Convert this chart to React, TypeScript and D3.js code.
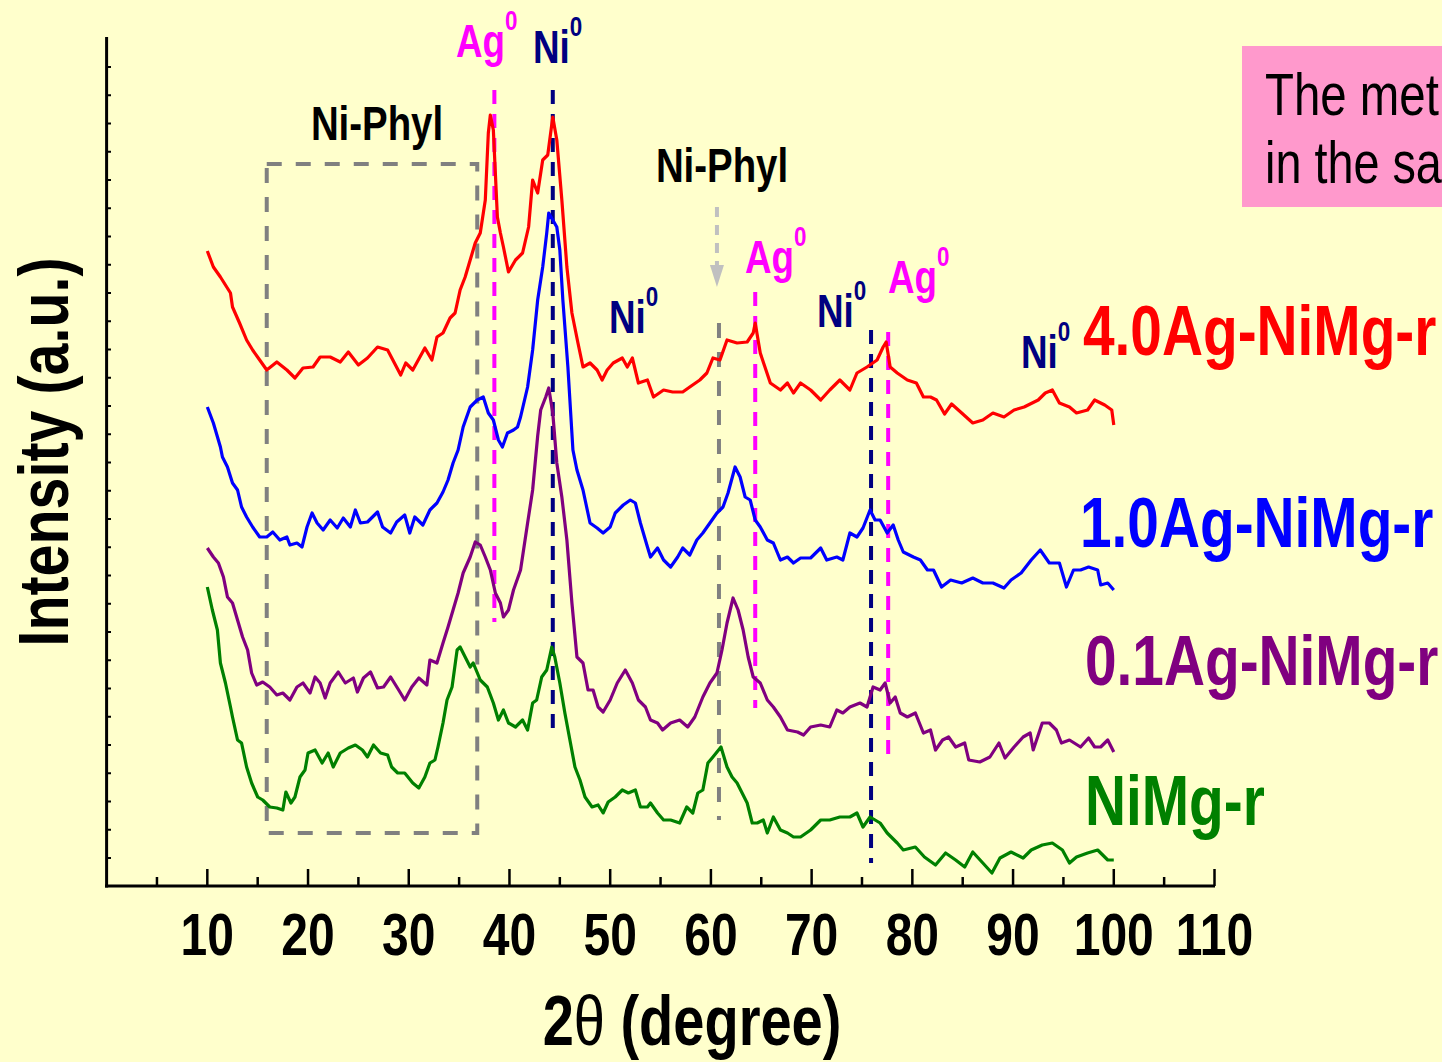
import React from 'react';
import * as d3 from 'd3';

// XRD patterns: [2theta (deg), intensity (a.u.)]
const ag40: [number, number][] = [
  [10.0,635],[10.6,619],[11.3,609],[12.3,593],[12.5,579],[13.2,563],[13.9,546],[14.5,536],[15.2,526],[15.9,516],
  [16.9,524],[17.9,516],[18.7,508],[19.5,518],[20.5,519],[21.2,529],[22.2,529],[23.2,524],[24.0,534],[25.0,521],
  [25.9,528],[26.9,539],[27.9,536],[29.2,511],[29.7,523],[30.4,516],[31.6,538],[32.3,526],[32.8,549],[33.4,553],
  [34.1,568],[34.6,573],[35.1,596],[35.6,609],[36.1,626],[36.6,643],[37.1,653],[37.6,686],[37.9,753],[38.1,771],
  [38.4,756],[38.8,669],[39.1,653],[39.4,639],[39.9,614],[40.6,626],[41.3,633],[41.9,659],[42.3,706],[42.8,693],
  [43.3,726],[43.8,731],[44.3,769],[44.7,746],[45.2,686],[45.7,619],[46.2,573],[46.8,543],[47.3,519],[48.0,523],
  [48.7,516],[49.2,506],[49.7,516],[50.3,523],[51.2,528],[51.7,519],[52.2,528],[52.8,503],[53.7,506],[54.3,489],
  [55.3,496],[56.2,494],[57.2,494],[57.9,499],[58.9,506],[59.6,513],[60.2,528],[60.9,526],[61.6,546],[62.6,543],
  [63.6,544],[64.2,553],[64.4,563],[64.9,533],[65.9,503],[66.9,496],[67.6,503],[68.2,493],[68.9,503],[69.9,496],
  [70.9,486],[71.8,496],[72.8,506],[73.8,496],[74.5,513],[75.5,519],[76.5,526],[77.1,539],[77.4,544],[77.8,519],
  [78.5,513],[79.5,506],[80.4,503],[81.1,489],[81.8,489],[82.4,486],[83.2,472],[83.9,482],[84.9,473],[86.0,463],
  [87.0,466],[88.0,473],[89.1,469],[90.1,476],[91.1,479],[92.5,486],[93.2,493],[93.9,496],[94.6,483],[95.6,479],
  [96.3,473],[97.4,476],[98.1,486],[99.1,481],[99.8,476],[100.0,461],
];

const ag10: [number, number][] = [
  [10.0,479],[10.6,463],[11.3,439],[11.5,429],[12.0,419],[12.5,403],[13.0,396],[13.4,379],[13.9,369],[14.5,359],
  [15.2,349],[15.9,349],[16.5,354],[17.2,346],[17.9,349],[18.2,341],[18.9,343],[19.4,339],[19.9,359],[20.4,373],
  [20.9,363],[21.5,356],[22.2,366],[22.9,358],[23.5,368],[24.2,359],[24.7,376],[25.2,363],[25.9,364],[26.9,374],
  [27.4,359],[28.2,353],[28.8,364],[29.6,371],[30.1,353],[30.6,369],[31.4,361],[32.1,376],[32.8,383],[33.4,394],
  [33.9,406],[34.4,423],[34.9,436],[35.4,459],[36.1,479],[36.8,486],[37.4,489],[37.9,473],[38.4,466],[38.9,446],
  [39.3,439],[39.8,453],[40.4,456],[40.8,459],[41.1,469],[41.8,499],[42.3,536],[42.8,586],[43.3,619],[43.7,653],
  [43.9,673],[44.3,666],[44.7,659],[45.0,636],[45.3,586],[45.8,519],[46.3,436],[46.7,416],[47.3,396],[48.0,363],
  [48.7,358],[49.3,353],[50.0,359],[50.5,373],[51.3,381],[52.0,386],[52.5,383],[53.0,363],[53.7,339],[54.0,329],
  [54.7,338],[55.3,326],[56.0,319],[56.7,329],[57.2,338],[57.9,331],[58.6,346],[59.2,353],[59.9,363],[60.6,373],
  [61.2,379],[61.7,393],[62.4,419],[62.9,409],[63.4,389],[63.9,386],[64.4,366],[64.9,359],[65.6,346],[66.2,343],
  [66.9,326],[67.6,329],[68.2,323],[68.9,328],[69.9,328],[70.9,338],[71.5,326],[72.5,329],[73.1,326],[73.8,353],
  [74.5,349],[75.1,358],[75.8,376],[76.3,366],[76.8,366],[77.5,353],[78.1,361],[78.6,346],[79.1,334],[80.1,329],
  [80.8,326],[81.5,316],[82.1,316],[82.9,299],[83.8,306],[84.9,303],[86.0,308],[87.0,303],[88.0,303],[89.1,298],
  [89.8,306],[90.8,313],[91.8,326],[92.7,336],[93.6,323],[94.6,323],[95.3,299],[96.0,316],[96.7,316],[97.5,319],
  [98.4,316],[98.7,301],[99.4,303],[100.0,296],
];

const ag01: [number, number][] = [
  [10.0,338],[10.6,329],[11.1,323],[11.6,309],[12.0,289],[12.5,283],[13.0,266],[13.5,249],[14.0,236],[14.4,213],
  [14.9,201],[15.5,204],[16.2,199],[16.9,191],[17.5,193],[18.2,186],[18.9,199],[19.5,203],[20.2,193],[20.7,209],
  [21.2,203],[21.7,188],[22.2,203],[23.0,214],[23.7,203],[24.5,208],[24.9,194],[25.5,208],[26.2,214],[26.9,198],
  [27.5,199],[28.2,209],[29.0,196],[29.6,186],[30.3,199],[31.0,208],[31.8,201],[32.1,226],[32.8,223],[33.4,243],
  [33.9,259],[34.4,276],[34.9,293],[35.4,313],[36.1,329],[36.6,344],[37.1,341],[37.6,329],[38.1,316],[38.6,293],
  [39.1,283],[39.4,269],[39.9,276],[40.4,296],[41.1,316],[41.8,363],[42.3,396],[42.8,450],[43.1,476],[43.6,489],
  [43.9,498],[44.3,473],[44.7,423],[45.2,389],[45.7,346],[46.2,283],[46.7,229],[47.3,223],[47.8,196],[48.3,196],
  [48.8,179],[49.3,174],[50.0,186],[50.7,203],[51.5,216],[52.2,203],[52.8,186],[53.5,179],[54.0,166],[54.7,163],
  [55.2,156],[56.0,163],[56.9,166],[57.7,159],[58.4,169],[59.2,189],[59.9,203],[60.6,213],[61.1,236],[61.6,263],
  [62.2,288],[62.7,276],[63.2,256],[63.7,229],[64.2,209],[64.9,203],[65.6,186],[66.2,179],[66.9,169],[67.6,156],
  [68.6,154],[69.2,151],[69.9,159],[70.9,161],[71.8,159],[72.5,176],[73.1,173],[73.8,179],[74.8,183],[75.5,179],
  [76.1,199],[76.8,196],[77.3,203],[77.8,183],[78.3,189],[78.8,173],[79.5,169],[80.3,173],[81.1,153],[81.8,156],
  [82.3,136],[83.0,146],[83.6,149],[84.3,139],[85.2,143],[85.6,126],[86.7,124],[87.7,129],[88.6,143],[89.2,128],
  [90.1,139],[91.0,149],[91.7,153],[92.0,136],[92.9,163],[93.6,163],[94.3,156],[94.8,143],[95.6,146],[96.7,139],
  [97.5,148],[98.1,139],[98.7,139],[99.4,146],[100.0,134],
];

const nimg: [number, number][] = [
  [10.0,299],[10.5,276],[11.0,256],[11.3,223],[11.8,203],[12.3,179],[12.5,169],[13.0,146],[13.4,143],[13.9,119],
  [14.4,103],[15.0,89],[15.5,86],[16.2,79],[16.9,78],[17.5,76],[17.8,94],[18.3,83],[18.7,89],[19.2,109],
  [19.7,116],[20.0,133],[20.7,136],[21.4,123],[22.0,133],[22.5,119],[23.2,133],[24.0,138],[24.7,141],[25.4,136],
  [25.9,129],[26.5,141],[27.2,133],[27.9,131],[28.3,119],[28.9,113],[29.6,113],[30.4,103],[31.0,98],[31.6,109],
  [32.1,123],[32.6,126],[32.9,139],[33.4,163],[33.8,186],[34.3,199],[34.8,236],[35.1,239],[35.6,229],[36.1,219],
  [36.4,223],[37.1,206],[37.8,199],[38.4,183],[38.9,166],[39.4,176],[39.9,163],[40.6,159],[41.3,166],[41.8,156],
  [42.3,183],[42.7,186],[43.2,209],[43.7,216],[44.2,239],[44.5,229],[45.0,203],[45.5,173],[46.0,146],[46.5,119],
  [47.0,106],[47.5,89],[48.2,79],[48.8,81],[49.3,73],[49.8,84],[50.5,89],[51.2,96],[51.8,93],[52.5,96],
  [53.0,79],[53.7,79],[54.0,83],[54.7,73],[55.3,66],[56.0,66],[56.9,63],[57.6,79],[58.2,73],[58.7,93],
  [59.2,96],[59.7,123],[60.2,129],[61.0,139],[61.6,119],[62.1,109],[62.6,103],[63.1,93],[63.6,83],[64.1,63],
  [64.6,63],[65.2,66],[65.6,53],[66.2,69],[66.9,56],[67.6,53],[68.2,49],[68.9,49],[69.9,56],[70.9,66],
  [71.8,66],[72.8,69],[73.8,69],[74.5,73],[75.1,59],[75.8,69],[76.8,63],[77.5,53],[78.5,43],[79.1,36],
  [80.3,39],[81.2,29],[82.3,21],[83.3,33],[84.3,26],[85.2,19],[86.0,34],[87.0,23],[87.9,13],[88.7,28],
  [89.8,34],[91.0,28],[91.8,36],[92.9,41],[93.9,43],[94.9,36],[95.6,23],[96.3,29],[97.4,33],[98.4,36],
  [99.4,26],[100.0,26],
];

const seriesNames = ['4.0Ag-NiMg-r', '1.0Ag-NiMg-r', '0.1Ag-NiMg-r', 'NiMg-r'];
const seriesColors = ['#FF0000', '#0000FF', '#800080', '#008000'];
const seriesData = [ag40, ag10, ag01, nimg];

const xTickLabels = [10, 20, 30, 40, 50, 60, 70, 80, 90, 100, 110];

// reference lines: [2theta, top intensity, bottom intensity]
const agLines: [number, number, number][] = [[38.5, 796, 264], [64.4, 594, 178], [77.6, 554, 131]];
const niLines: [number, number, number][] = [[44.3, 796, 153], [75.9, 556, 23]];
const phylLine: [number, number, number] = [60.8, 563, 66];
const phylBox = { x0: 15.9, x1: 36.8, top: 722, bottom: 53 };

const W = 1442;
const H = 1062;
const FONT = 'Liberation Sans, Arial, Helvetica, sans-serif';

function CText({ x, y, size, fill = '#000', anchor = 'start', weight = 'bold', sx = 0.8, rotate = 0, children }: any) {
  return (
    <text
      transform={`translate(${x},${y}) rotate(${rotate}) scale(${sx},1)`}
      fontSize={size}
      fill={fill}
      textAnchor={anchor}
      fontWeight={weight}
      fontFamily={FONT}
    >
      {children}
    </text>
  );
}

function Peak({ x, y, label, color }: any) {
  return (
    <CText x={x} y={y} size={46} fill={color}>
      {label}
      <tspan dy={-27} fontSize={28}>0</tspan>
    </CText>
  );
}

export default function App() {
  const x = d3.scaleLinear().domain([0, 110]).range([106.6, 1214.5]);
  const y = d3.scaleLinear().domain([0, 850]).range([886, 36]);
  const line = d3.line<[number, number]>().x(d => x(d[0])).y(d => y(d[1]));

  const minorX = d3.range(5, 111, 5);
  const yTicks = d3.range(28, 830, 28.25);

  return (
    <svg width={W} height={H} style={{ position: 'absolute', left: 0, top: 0, background: '#FFFFCC' }}>
      <rect x={0} y={0} width={W} height={H} fill="#FFFFCC" />

      {/* pink note box (runs off the right edge, as in the slide) */}
      <rect x={1242} y={46} width={220} height={161} fill="#FF99CC" />
      <CText x={1265} y={115} size={60} weight="normal" sx={0.79}>The met</CText>
      <CText x={1265} y={183} size={60} weight="normal" sx={0.78}>in the sa</CText>

      {/* Ni-Phyl dashed box */}
      <rect
        x={x(phylBox.x0)} y={y(phylBox.top)}
        width={x(phylBox.x1) - x(phylBox.x0)} height={y(phylBox.bottom) - y(phylBox.top)}
        fill="none" stroke="#808080" strokeWidth={4} strokeDasharray="15,14"
      />
      <line x1={x(phylLine[0])} x2={x(phylLine[0])} y1={y(phylLine[1])} y2={y(phylLine[2])}
        stroke="#808080" strokeWidth={4} strokeDasharray="15,14" />
      {/* light arrow */}
      <line x1={x(60.6)} x2={x(60.6)} y1={y(679)} y2={y(619)} stroke="#C0C0C0" strokeWidth={4} strokeDasharray="10,8" />
      <path d={`M${x(60.6) - 7},${y(621)} L${x(60.6) + 7},${y(621)} L${x(60.6)},${y(599)} Z`} fill="#C0C0C0" />

      {agLines.map((l, i) => (
        <line key={'ag' + i} x1={x(l[0])} x2={x(l[0])} y1={y(l[1])} y2={y(l[2])}
          stroke="#FF00FF" strokeWidth={4} strokeDasharray="14,10" />
      ))}
      {niLines.map((l, i) => (
        <line key={'ni' + i} x1={x(l[0])} x2={x(l[0])} y1={y(l[1])} y2={y(l[2])}
          stroke="#000080" strokeWidth={4} strokeDasharray="14,10" />
      ))}

      {seriesData.map((d, i) => (
        <path key={i} d={line(d) || ''} fill="none" stroke={seriesColors[i]} strokeWidth={3.2} strokeLinejoin="round" />
      ))}

      {/* axes */}
      <line x1={106.6} x2={106.6} y1={37} y2={887.5} stroke="#000" strokeWidth={3} />
      <line x1={105} x2={1215} y1={886} y2={886} stroke="#000" strokeWidth={3} />
      {yTicks.map(t => (
        <line key={t} x1={106.6} x2={111} y1={y(t)} y2={y(t)} stroke="#000" strokeWidth={2} />
      ))}
      {minorX.map(t => (
        <line key={t} x1={x(t)} x2={x(t)} y1={886} y2={t % 10 === 0 ? 869 : 877} stroke="#000" strokeWidth={2.5} />
      ))}
      {xTickLabels.map(t => (
        <CText key={t} x={x(t)} y={955} size={60} anchor="middle">{String(t)}</CText>
      ))}

      <CText x={692} y={1045} size={70} anchor="middle">
        2<tspan fontWeight="normal">θ</tspan> (degree)
      </CText>
      <CText x={68} y={452} size={70} anchor="middle" rotate={-90} sx={0.82}>Intensity (a.u.)</CText>

      {/* annotations */}
      <CText x={377} y={140} size={48} anchor="middle">Ni-Phyl</CText>
      <CText x={722} y={182} size={48} anchor="middle">Ni-Phyl</CText>
      <Peak x={456} y={57} label="Ag" color="#FF00FF" />
      <Peak x={533} y={63} label="Ni" color="#000080" />
      <Peak x={609} y={333} label="Ni" color="#000080" />
      <Peak x={745} y={273} label="Ag" color="#FF00FF" />
      <Peak x={817} y={327} label="Ni" color="#000080" />
      <Peak x={888} y={293} label="Ag" color="#FF00FF" />
      <Peak x={1021} y={368} label="Ni" color="#000080" />

      <CText x={1083} y={355} size={71} fill={seriesColors[0]}>{seriesNames[0]}</CText>
      <CText x={1080} y={547} size={71} fill={seriesColors[1]}>{seriesNames[1]}</CText>
      <CText x={1085} y={685} size={71} fill={seriesColors[2]}>{seriesNames[2]}</CText>
      <CText x={1085} y={825} size={71} fill={seriesColors[3]}>{seriesNames[3]}</CText>
    </svg>
  );
}
